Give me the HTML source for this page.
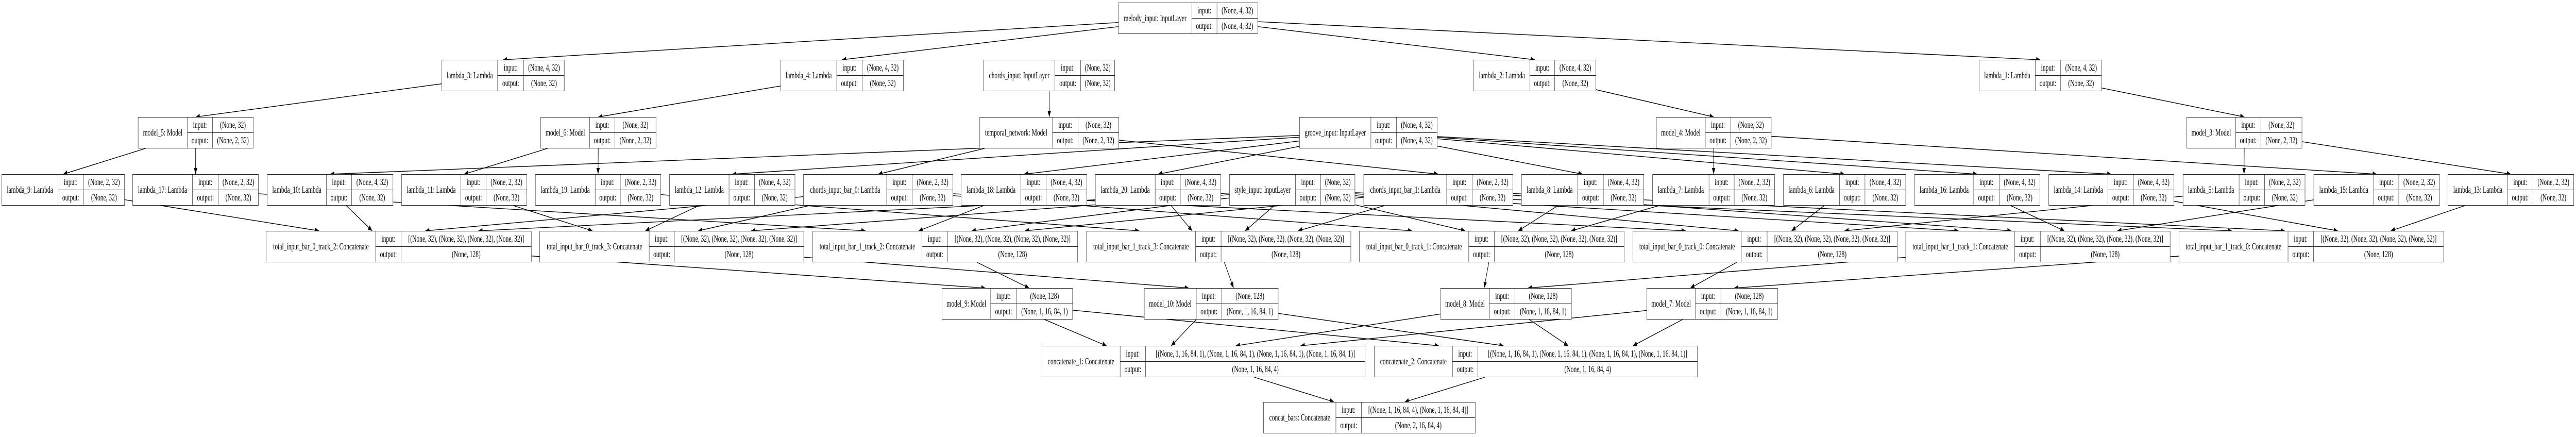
<!DOCTYPE html>
<html><head><meta charset="utf-8">
<meta name="viewport" content="width=7581, initial-scale=1">
<style>
html{margin:0;padding:0;overflow:hidden;background:#fff;}
body{margin:0;padding:0;background:#fff;position:relative;overflow:hidden;font-family:"Liberation Serif",serif;font-size:17.5px;color:#000;}
#wrap{position:absolute;left:0;top:0;width:7581px;height:848px;overflow:hidden;transform-origin:0 0;}
.n{position:absolute;height:61px;box-sizing:border-box;border:1.5px solid #222;background:#fff;}
.n div{position:absolute;box-sizing:border-box;display:flex;align-items:center;justify-content:center;white-space:nowrap;overflow:hidden;}
.nm{left:0;top:0;height:100%;border-right:1.5px solid #222;}
.li{top:0;height:50%;border-right:1.5px solid #222;border-bottom:1.5px solid #222;}
.lo{top:50%;height:50%;border-right:1.5px solid #222;}
.vi{top:0;height:50%;right:0;border-bottom:1.5px solid #222;}
.vo{top:50%;height:50%;right:0;}
svg{position:absolute;left:0;top:0;}
</style></head><body>
<div id="wrap">
<svg id="s" width="7581" height="848" viewBox="0 0 7581 848"><defs><marker id="ar" markerWidth="12" markerHeight="10" refX="12" refY="5" orient="auto" markerUnits="userSpaceOnUse"><path d="M0,0 L12,5 L0,10 z" fill="#000"/></marker></defs><g id="g" stroke="#000" stroke-width="1.4" fill="none"></g></svg>
<div id="nodes"></div>
</div>
<script>
var N=[
["melody_input","melody_input: InputLayer",3291,3507,3581,3702,5,"(None, 4, 32)","(None, 4, 32)"],
["lambda_3","lambda_3: Lambda",1300,1464,1541,1661,116,"(None, 4, 32)","(None, 32)"],
["lambda_4","lambda_4: Lambda",2297,2462,2537,2659,116,"(None, 4, 32)","(None, 32)"],
["chords_input","chords_input: InputLayer",2894,3104,3180,3281,116,"(None, 32)","(None, 32)"],
["lambda_2","lambda_2: Lambda",4337,4502,4575,4697,116,"(None, 4, 32)","(None, 32)"],
["lambda_1","lambda_1: Lambda",5824,5989,6064,6185,116,"(None, 4, 32)","(None, 32)"],
["model_5","model_5: Model",406,551,625,746,227,"(None, 32)","(None, 2, 32)"],
["model_6","model_6: Model",1591,1735,1809,1931,227,"(None, 32)","(None, 2, 32)"],
["temporal_network","temporal_network: Model",2883,3097,3172,3293,227,"(None, 32)","(None, 2, 32)"],
["groove_input","groove_input: InputLayer",3824,4034,4109,4230,227,"(None, 4, 32)","(None, 4, 32)"],
["model_4","model_4: Model",4874,5018,5093,5213,227,"(None, 32)","(None, 2, 32)"],
["model_3","model_3: Model",6435,6579,6653,6775,227,"(None, 32)","(None, 2, 32)"],
["lambda_9","lambda_9: Lambda",5,170,245,367,338,"(None, 2, 32)","(None, 32)"],
["lambda_17","lambda_17: Lambda",390,566,642,761,338,"(None, 2, 32)","(None, 32)"],
["lambda_10","lambda_10: Lambda",786,960,1034,1157,338,"(None, 4, 32)","(None, 32)"],
["lambda_11","lambda_11: Lambda",1181,1356,1430,1551,338,"(None, 2, 32)","(None, 32)"],
["lambda_19","lambda_19: Lambda",1575,1751,1825,1945,338,"(None, 2, 32)","(None, 32)"],
["lambda_12","lambda_12: Lambda",1970,2145,2220,2340,338,"(None, 4, 32)","(None, 32)"],
["chords_input_bar_0","chords_input_bar_0: Lambda",2364,2609,2684,2805,338,"(None, 2, 32)","(None, 32)"],
["lambda_18","lambda_18: Lambda",2828,3004,3078,3199,338,"(None, 4, 32)","(None, 32)"],
["lambda_20","lambda_20: Lambda",3223,3399,3473,3593,338,"(None, 4, 32)","(None, 32)"],
["style_input","style_input: InputLayer",3618,3812,3886,3988,338,"(None, 32)","(None, 32)"],
["chords_input_bar_1","chords_input_bar_1: Lambda",4013,4257,4332,4453,338,"(None, 2, 32)","(None, 32)"],
["lambda_8","lambda_8: Lambda",4477,4643,4718,4838,338,"(None, 4, 32)","(None, 32)"],
["lambda_7","lambda_7: Lambda",4863,5029,5103,5223,338,"(None, 2, 32)","(None, 32)"],
["lambda_6","lambda_6: Lambda",5248,5413,5488,5609,338,"(None, 4, 32)","(None, 32)"],
["lambda_16","lambda_16: Lambda",5634,5808,5883,6004,338,"(None, 4, 32)","(None, 32)"],
["lambda_14","lambda_14: Lambda",6029,6203,6278,6398,338,"(None, 4, 32)","(None, 32)"],
["lambda_5","lambda_5: Lambda",6424,6589,6664,6784,338,"(None, 2, 32)","(None, 32)"],
["lambda_15","lambda_15: Lambda",6809,6985,7059,7180,338,"(None, 2, 32)","(None, 32)"],
["lambda_13","lambda_13: Lambda",7204,7379,7454,7575,338,"(None, 2, 32)","(None, 32)"],
["b0t2","total_input_bar_0_track_2: Concatenate",783,1105,1180,1564,448,"[(None, 32), (None, 32), (None, 32), (None, 32)]","(None, 128)"],
["b0t3","total_input_bar_0_track_3: Concatenate",1588,1910,1984,2366,448,"[(None, 32), (None, 32), (None, 32), (None, 32)]","(None, 128)"],
["b1t2","total_input_bar_1_track_2: Concatenate",2391,2713,2788,3172,448,"[(None, 32), (None, 32), (None, 32), (None, 32)]","(None, 128)"],
["b1t3","total_input_bar_1_track_3: Concatenate",3197,3518,3593,3976,448,"[(None, 32), (None, 32), (None, 32), (None, 32)]","(None, 128)"],
["b0t1","total_input_bar_0_track_1: Concatenate",4000,4322,4397,4780,448,"[(None, 32), (None, 32), (None, 32), (None, 32)]","(None, 128)"],
["b0t0","total_input_bar_0_track_0: Concatenate",4805,5124,5200,5584,448,"[(None, 32), (None, 32), (None, 32), (None, 32)]","(None, 128)"],
["b1t1","total_input_bar_1_track_1: Concatenate",5608,5929,6004,6387,448,"[(None, 32), (None, 32), (None, 32), (None, 32)]","(None, 128)"],
["b1t0","total_input_bar_1_track_0: Concatenate",6412,6733,6808,7192,448,"[(None, 32), (None, 32), (None, 32), (None, 32)]","(None, 128)"],
["model_9","model_9: Model",2772,2915,2991,3157,559,"(None, 128)","(None, 1, 16, 84, 1)"],
["model_10","model_10: Model",3367,3520,3595,3762,559,"(None, 128)","(None, 1, 16, 84, 1)"],
["model_8","model_8: Model",4239,4383,4458,4625,559,"(None, 128)","(None, 1, 16, 84, 1)"],
["model_7","model_7: Model",4846,4989,5064,5232,559,"(None, 128)","(None, 1, 16, 84, 1)"],
["concatenate_1","concatenate_1: Concatenate",3066,3296,3371,4018,671,"[(None, 1, 16, 84, 1), (None, 1, 16, 84, 1), (None, 1, 16, 84, 1), (None, 1, 16, 84, 1)]","(None, 1, 16, 84, 4)"],
["concatenate_2","concatenate_2: Concatenate",4044,4274,4349,4996,671,"[(None, 1, 16, 84, 1), (None, 1, 16, 84, 1), (None, 1, 16, 84, 1), (None, 1, 16, 84, 1)]","(None, 1, 16, 84, 4)"],
["concat_bars","concat_bars: Concatenate",3718,3931,4006,4342,780,"[(None, 1, 16, 84, 4), (None, 1, 16, 84, 4)]","(None, 2, 16, 84, 4)"]
];
var M={},h="";
N.forEach(function(n){M[n[0]]={x:n[2],r:n[5],y:n[6],b:n[6]+61,cx:(n[2]+n[5])/2};
var w=n[5]-n[2],a=n[3]-n[2],b=n[4]-n[2];
h+='<div class="n" style="left:'+n[2]+'px;top:'+n[6]+'px;width:'+w+'px"><div class="nm" style="width:'+a+'px">'+n[1]+'</div><div class="li" style="left:'+a+'px;width:'+(b-a)+'px">input:</div><div class="lo" style="left:'+a+'px;width:'+(b-a)+'px">output:</div><div class="vi" style="left:'+b+'px">'+n[7]+'</div><div class="vo" style="left:'+b+'px">'+n[8]+'</div></div>';});
document.getElementById('nodes').innerHTML=h;
var E=[["melody_input","lambda_3"],["melody_input","lambda_4"],["melody_input","lambda_2"],["melody_input","lambda_1"],
["lambda_3","model_5"],["lambda_4","model_6"],["lambda_2","model_4"],["lambda_1","model_3"],["chords_input","temporal_network"],
["temporal_network","chords_input_bar_0"],["temporal_network","chords_input_bar_1"]];
["6","8","10","12","14","16","18","20"].forEach(function(k){E.push(["groove_input","lambda_"+k]);});
[["model_3","5","13"],["model_4","7","15"],["model_5","9","17"],["model_6","11","19"]].forEach(function(m){E.push([m[0],"lambda_"+m[1]]);E.push([m[0],"lambda_"+m[2]]);});
var mel=[[5,13],[7,15],[9,17],[11,19]],grv=[[6,14],[8,16],[10,18],[12,20]],tm=["model_7","model_8","model_9","model_10"];
for(var t=0;t<4;t++)for(var b=0;b<2;b++){var c="b"+b+"t"+t;E.push(["chords_input_bar_"+b,c]);E.push(["style_input",c]);E.push(["lambda_"+mel[t][b],c]);E.push(["lambda_"+grv[t][b],c]);E.push([c,tm[t]]);}
tm.forEach(function(m){E.push([m,"concatenate_1"]);E.push([m,"concatenate_2"]);});
E.push(["concatenate_1","concat_bars"]);E.push(["concatenate_2","concat_bars"]);
var inc={};E.forEach(function(e){(inc[e[1]]=inc[e[1]]||[]).push(e);});
for(var k in inc){var L=inc[k];L.sort(function(a,b){return M[a[0]].cx-M[b[0]].cx;});var T=M[k],w=T.r-T.x;
L.forEach(function(e,i){e.tx=T.x+w*(i+1)/(L.length+1);});}
var g="";
E.forEach(function(e){var S=M[e[0]],T=M[e[1]],tx=e.tx,ty=T.y;
var sx=S.cx,sy=(S.y+S.b)/2,dx=tx-sx,dy=ty-sy;
var hw=(S.r-S.x)/2,hh=30.5,f=Math.min(Math.abs(hw/dx)||1e9,Math.abs(hh/dy)||1e9);
var x0=sx+dx*f,y0=sy+dy*f;
g+='<path d="M'+x0.toFixed(1)+','+y0.toFixed(1)+' L'+tx.toFixed(1)+','+ty+'" marker-end="url(#ar)"/>';});
document.getElementById('g').innerHTML=g;
function fit(){var W=window.innerWidth||7581,H=window.innerHeight||848;
var sx=W/7581,sy=H/848;if(Math.abs(sx-1)<0.002)sx=1;if(Math.abs(sy-1)<0.002)sy=1;
document.body.style.width=W+'px';document.body.style.height=H+'px';
document.getElementById('wrap').style.transform=(sx===1&&sy===1)?'none':'scale('+sx+','+sy+')';}
fit();window.addEventListener('resize',fit);
</script>
</body></html>
